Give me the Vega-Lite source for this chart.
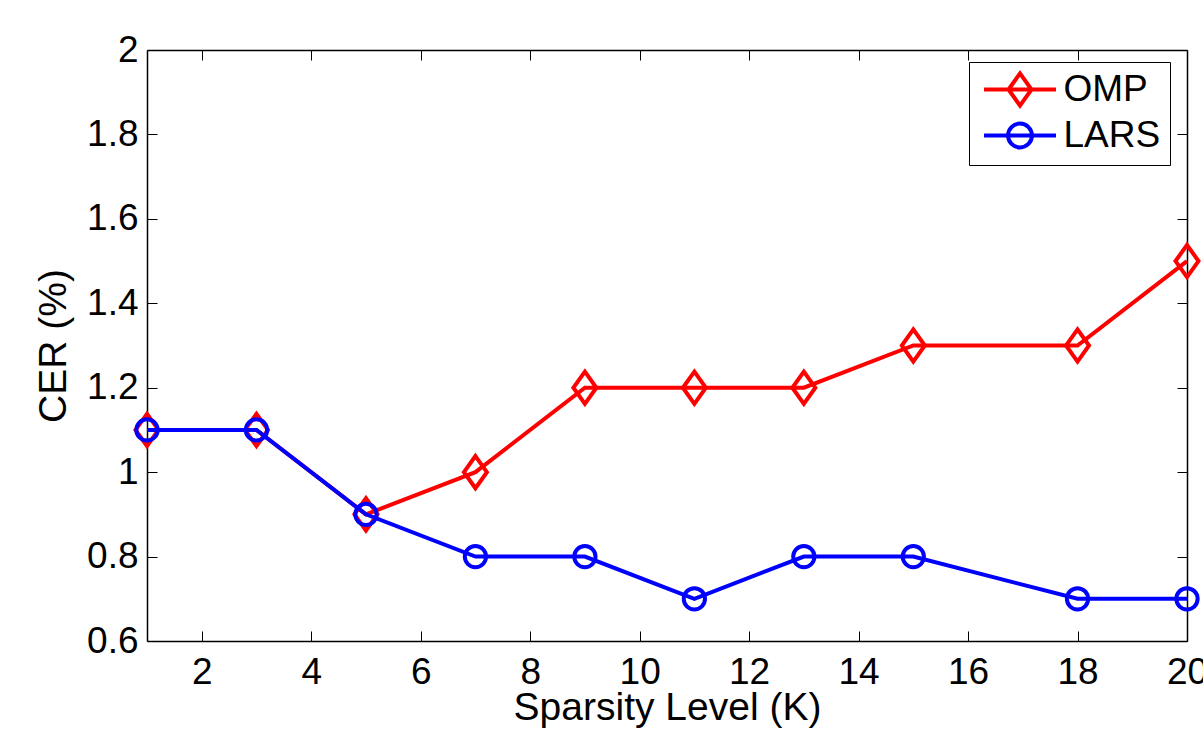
{
  "$schema": "https://vega.github.io/schema/vega-lite/v6.json",
  "width": 1040,
  "height": 591,
  "autosize": {"type": "none"},
  "padding": {"left": 147, "top": 50, "right": 16, "bottom": 93},
  "background": "white",
  "config": {
    "view": {"stroke": null},
    "font": "Liberation Sans",
    "axis": {
      "grid": false,
      "domainColor": "black",
      "domainWidth": 1.5,
      "tickColor": "black",
      "tickWidth": 1,
      "tickSize": -10,
      "labelColor": "black",
      "titleColor": "black",
      "labelFont": "Liberation Sans",
      "titleFont": "Liberation Sans",
      "labelFontSize": 37,
      "titleFontSize": 39,
      "titleFontWeight": "normal",
      "labelFlush": false,
      "labelOverlap": false,
      "labelBound": false
    }
  },
  "data": {
    "values": [
      {"K": 1, "series": "OMP", "CER": 1.1},
      {"K": 3, "series": "OMP", "CER": 1.1},
      {"K": 5, "series": "OMP", "CER": 0.9},
      {"K": 7, "series": "OMP", "CER": 1.0},
      {"K": 9, "series": "OMP", "CER": 1.2},
      {"K": 11, "series": "OMP", "CER": 1.2},
      {"K": 13, "series": "OMP", "CER": 1.2},
      {"K": 15, "series": "OMP", "CER": 1.3},
      {"K": 18, "series": "OMP", "CER": 1.3},
      {"K": 20, "series": "OMP", "CER": 1.5},
      {"K": 1, "series": "LARS", "CER": 1.1},
      {"K": 3, "series": "LARS", "CER": 1.1},
      {"K": 5, "series": "LARS", "CER": 0.9},
      {"K": 7, "series": "LARS", "CER": 0.8},
      {"K": 9, "series": "LARS", "CER": 0.8},
      {"K": 11, "series": "LARS", "CER": 0.7},
      {"K": 13, "series": "LARS", "CER": 0.8},
      {"K": 15, "series": "LARS", "CER": 0.8},
      {"K": 18, "series": "LARS", "CER": 0.7},
      {"K": 20, "series": "LARS", "CER": 0.7}
    ]
  },
  "layer": [
    {
      "transform": [{"filter": "datum.series === 'OMP'"}],
      "mark": {"type": "line", "strokeWidth": 4, "clip": false},
      "encoding": {
        "x": {
          "field": "K", "type": "quantitative",
          "scale": {"domain": [1, 20], "nice": false, "zero": false},
          "axis": {
            "orient": "bottom",
            "values": [2, 4, 6, 8, 10, 12, 14, 16, 18, 20],
            "labelPadding": 23,
            "title": "Sparsity Level (K)",
            "titleY": 78,
            "titleBaseline": "alphabetic"
          }
        },
        "y": {
          "field": "CER", "type": "quantitative",
          "scale": {"domain": [0.6, 2], "nice": false, "zero": false},
          "axis": {
            "orient": "left",
            "values": [0.6, 0.8, 1.0, 1.2, 1.4, 1.6, 1.8, 2.0],
            "format": ".1~f",
            "labelPadding": 19,
            "title": "CER (%)",
            "titleX": -82,
            "titleBaseline": "alphabetic"
          }
        },
        "color": {
          "field": "series", "type": "nominal",
          "scale": {"domain": ["OMP", "LARS"], "range": ["#ff0000", "#0000ff"]},
          "legend": {
            "orient": "none",
            "legendX": 822,
            "legendY": 12,
            "title": null,
            "strokeColor": "black",
            "fillColor": "white",
            "padding": 9,
            "rowPadding": 1,
            "symbolOffset": 23.5,
            "labelOffset": 25,
            "labelFontSize": 37,
            "labelFont": "Liberation Sans",
            "labelColor": "black",
            "labelLimit": 0,
            "symbolSize": 529,
            "symbolStrokeWidth": 4,
            "symbolFillColor": "transparent",
            "encode": {
              "symbols": {
                "update": {
                  "shape": {"signal": "datum.value === 'OMP' ? 'M-3.13,0H3.13M0,-1.4L1,0L0,1.4L-1,0Z' : 'M-3.13,0H3.13M-1.04,0A1.04,1.04 0 1,0 1.04,0A1.04,1.04 0 1,0 -1.04,0Z'"},
                  "fill": {"value": "transparent"},
                  "strokeWidth": {"value": 4}
                }
              }
            }
          }
        }
      }
    },
    {
      "transform": [{"filter": "datum.series === 'OMP'"}],
      "mark": {"type": "point", "filled": false, "strokeWidth": 4, "opacity": 1, "size": 529, "shape": "M0,-1.4L1,0L0,1.4L-1,0Z", "clip": false},
      "encoding": {
        "x": {"field": "K", "type": "quantitative", "axis": null},
        "y": {"field": "CER", "type": "quantitative", "axis": null},
        "color": {"field": "series", "type": "nominal"}
      }
    },
    {
      "transform": [{"filter": "datum.series === 'LARS'"}],
      "mark": {"type": "line", "strokeWidth": 4, "clip": false},
      "encoding": {
        "x": {"field": "K", "type": "quantitative", "axis": null},
        "y": {"field": "CER", "type": "quantitative", "axis": null},
        "color": {"field": "series", "type": "nominal"}
      }
    },
    {
      "transform": [{"filter": "datum.series === 'LARS'"}],
      "mark": {"type": "point", "filled": false, "strokeWidth": 4, "opacity": 1, "size": 452, "shape": "circle", "clip": false},
      "encoding": {
        "x": {"field": "K", "type": "quantitative", "axis": null},
        "y": {"field": "CER", "type": "quantitative", "axis": null},
        "color": {"field": "series", "type": "nominal"}
      }
    },
    {
      "mark": {"type": "point", "opacity": 0},
      "encoding": {
        "x": {
          "field": "K", "type": "quantitative",
          "axis": {"orient": "top", "values": [2, 4, 6, 8, 10, 12, 14, 16, 18, 20], "labels": false, "title": null}
        },
        "y": {
          "field": "CER", "type": "quantitative",
          "axis": {"orient": "right", "values": [0.6, 0.8, 1.0, 1.2, 1.4, 1.6, 1.8, 2.0], "labels": false, "title": null}
        }
      }
    }
  ],
  "resolve": {"axis": {"x": "independent", "y": "independent"}}
}
